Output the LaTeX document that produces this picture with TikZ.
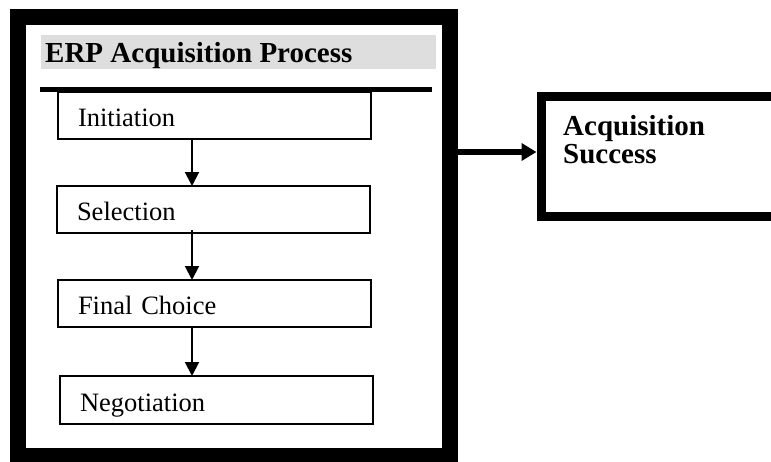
\documentclass[tikz,border=0pt]{standalone}
\usepackage{fontspec}
\setmainfont{Liberation Serif}
\usetikzlibrary{arrows.meta,calc}
\definecolor{titlegray}{HTML}{DEDEDE}
\tikzset{
  stepbox/.style={draw=black, line width=1.5pt, minimum width=313pt, minimum height=47pt,
    inner xsep=20pt, inner ysep=0pt, outer sep=0pt, text width=273pt, align=left,
    text height=22pt, text depth=0pt, font=\fontsize{26.5}{30}\selectfont, anchor=north west},
  smallarrow/.style={line width=2pt, -{Triangle[length=14pt,width=14pt]}},
  bigarrow/.style={line width=5.5pt, -{Triangle[length=15pt,width=17pt]}},
  boldtext/.style={font=\fontsize{29}{28}\bfseries\selectfont, inner sep=0pt},
}
\begin{document}
\begin{tikzpicture}[x=1pt,y=-1pt]
\useasboundingbox (0,0) rectangle (771,461);
% outer process frame
\node[draw=black, line width=16pt, minimum width=432pt, minimum height=439pt,
      inner sep=0pt, outer sep=0pt, anchor=north west] (erp) at (18,17) {};
% title band
\node[fill=titlegray, minimum width=395pt, minimum height=34pt, inner sep=0pt,
      outer sep=0pt, anchor=north west] (titleband) at (41,35) {};
\node[boldtext, anchor=base west] (title) at (45,62) {ERP Acquisition Process};
% thick separator
\coordinate (sepL) at (40,89.5);
\coordinate (sepR) at (432,89.5);
\draw[line width=5pt] (sepL) -- (sepR);
% steps
\node[stepbox] (init) at (58,92) {Initiation};
\node[stepbox] (sel) at (57,186) {Selection};
\node[stepbox] (fin) at (58,280) {Final Choice};
\node[stepbox, minimum height=48pt] (neg) at (60,376) {Negotiation};
% arrows between steps
\coordinate (ax) at (192,0);
\draw[smallarrow] (init.south -| ax) -- (sel.north -| ax);
\draw[smallarrow] ([yshift=3pt]sel.south -| ax) -- (fin.north -| ax);
\draw[smallarrow] (fin.south -| ax) -- (neg.north -| ax);
% acquisition success box
\node[draw=black, line width=9pt, minimum width=280pt, minimum height=120pt,
      inner sep=0pt, outer sep=0pt, anchor=north west] (succ) at (541,96.5) {};
\node[boldtext, anchor=base west, align=left] (succtext) at (563,163)
  {Acquisition\\Success};
% main arrow
\draw[bigarrow, shorten >=4.5pt] ([yshift=4.5pt]erp.east |- succ.west) -- ([yshift=4.5pt]succ.west);
\end{tikzpicture}
\end{document}
